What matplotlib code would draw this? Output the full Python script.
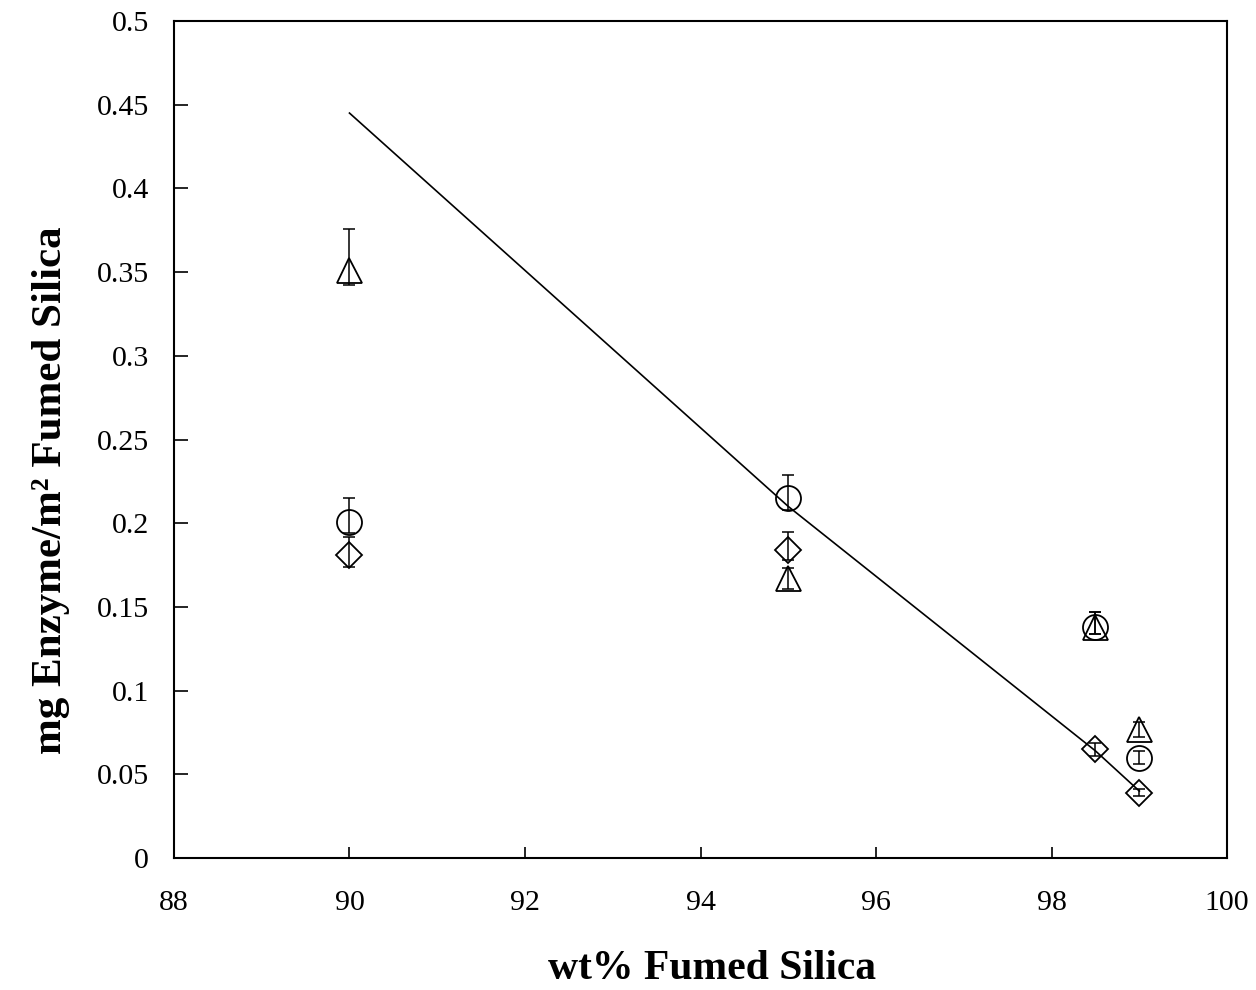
import matplotlib
matplotlib.use("Agg")
import matplotlib.pyplot as plt

plt.rcParams['font.family'] = ['Liberation Serif', 'DejaVu Serif']

# Data (wt% fumed silica vs mg enzyme / m^2 fumed silica)
tri_x = [90, 95, 98.5, 99]
tri_y = [0.351, 0.167, 0.138, 0.077]
tri_lo = [0.009, 0.006, 0.004, 0.005]
tri_hi = [0.025, 0.006, 0.009, 0.004]

circ_x = [90, 95, 98.5, 99]
circ_y = [0.201, 0.215, 0.138, 0.060]
circ_lo = [0.007, 0.007, 0.004, 0.004]
circ_hi = [0.014, 0.014, 0.009, 0.004]

dia_x = [90, 95, 98.5, 99]
dia_y = [0.181, 0.184, 0.065, 0.039]
dia_lo = [0.007, 0.006, 0.004, 0.002]
dia_hi = [0.011, 0.011, 0.004, 0.002]

trend_x = [90, 92, 95, 98.5, 99]
trend_y = [0.445, 0.351, 0.210, 0.064, 0.040]

x_ticks = [88, 90, 92, 94, 96, 98, 100]
y_ticks = [0, 0.05, 0.1, 0.15, 0.2, 0.25, 0.3, 0.35, 0.4, 0.45, 0.5]
y_tick_labels = ['0', '0.05', '0.1', '0.15', '0.2', '0.25', '0.3', '0.35', '0.4', '0.45', '0.5']

fig = plt.figure(figsize=(12.56, 9.9), dpi=100)
ax = fig.add_axes([0.1385, 0.1333, 0.8385, 0.8455])

ax.plot(trend_x, trend_y, color='black', lw=1.2, zorder=2)

common = dict(fmt='none', ecolor='black', elinewidth=1.1, capsize=4.5, capthick=1.1, zorder=3)
ax.errorbar(tri_x, tri_y, yerr=[tri_lo, tri_hi], **common)
ax.errorbar(circ_x, circ_y, yerr=[circ_lo, circ_hi], **common)
ax.errorbar(dia_x, dia_y, yerr=[dia_lo, dia_hi], **common)

mk = dict(linestyle='none', markerfacecolor='none', markeredgecolor='black', markeredgewidth=1.3, zorder=4)
ax.plot(tri_x, tri_y, marker='^', markersize=18, **mk)
ax.plot(circ_x, circ_y, marker='o', markersize=18, **mk)
ax.plot(dia_x, dia_y, marker='D', markersize=13, **mk)

ax.set_xlim(88, 100)
ax.set_ylim(0, 0.5)
ax.set_xticks(x_ticks)
ax.set_xticklabels([str(t) for t in x_ticks])
ax.set_yticks(y_ticks)
ax.set_yticklabels(y_tick_labels)

for s in ax.spines.values():
    s.set_linewidth(1.5)
ax.tick_params(axis='x', direction='in', length=8, width=1.2, labelsize=21.5, pad=23)
ax.tick_params(axis='y', direction='in', length=10, width=1.2, labelsize=21.5, pad=18)

ax.set_xlabel('wt% Fumed Silica', fontsize=30, fontweight='bold')
ax.xaxis.set_label_coords(712 / 1256, 1 - 979 / 990, transform=fig.transFigure)
ax.xaxis.label.set_verticalalignment('baseline')

ax.set_ylabel('mg Enzyme/m² Fumed Silica', fontsize=31, fontweight='bold')
ax.yaxis.set_label_coords(51 / 1256, 1 - 490 / 990, transform=fig.transFigure)
ax.yaxis.label.set_verticalalignment('center')
ax.yaxis.label.set_horizontalalignment('center')

fig.savefig('out.png', dpi=100)
